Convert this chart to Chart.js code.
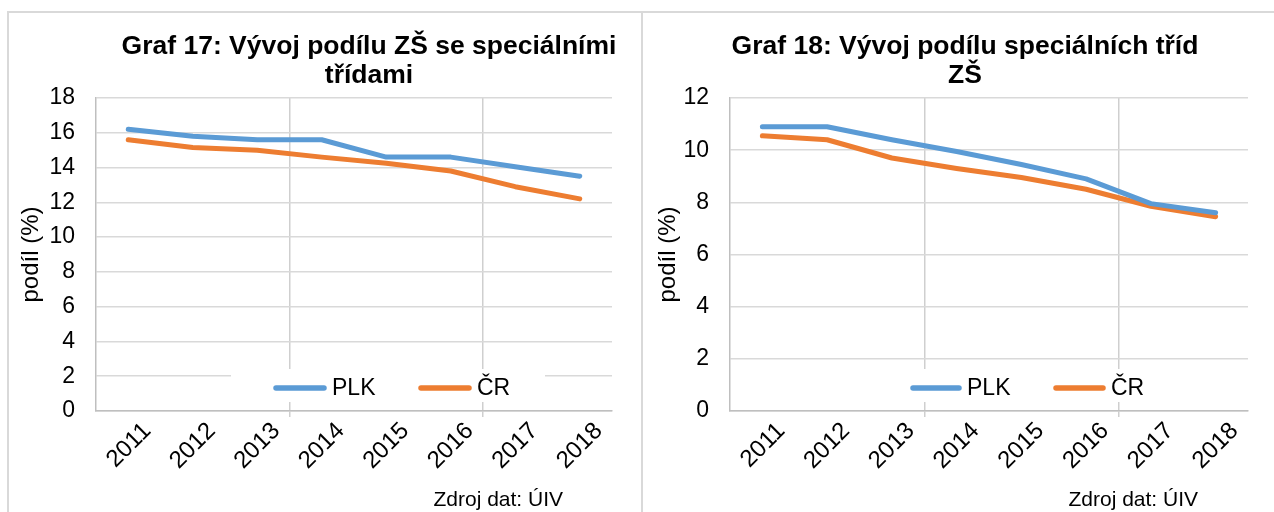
<!DOCTYPE html>
<html>
<head>
<meta charset="utf-8">
<script src="https://cdn.jsdelivr.net/npm/chart.js@4/dist/chart.umd.min.js"></script>
<style>
  html, body { margin:0; padding:0; background:#fff; }
  #wrap { position:relative; width:1274px; height:512px; overflow:hidden; background:#fff; }
  .frame { position:absolute; background:#d9d9d9; }
  canvas { position:absolute; top:0; }
</style>
</head>
<body>
<div id="wrap">
  <div class="frame" style="left:8px;top:11px;width:1266px;height:2px;"></div>
  <div class="frame" style="left:7px;top:11px;width:2px;height:501px;"></div>
  <div class="frame" style="left:641px;top:11px;width:2px;height:501px;"></div>
  <canvas id="c1" width="637" height="512" style="left:0px;"></canvas>
  <canvas id="c2" width="637" height="512" style="left:637px;"></canvas>
</div>
<script>
// ---- data ----
const years = ['2011','2012','2013','2014','2015','2016','2017','2018'];
const plkZS   = [16.2, 15.8, 15.6, 15.6, 14.6, 14.6, 14.05, 13.5];
const crZS    = [15.6, 15.15, 15.0, 14.6, 14.25, 13.8, 12.9, 12.2];
const plkTridy = [10.9, 10.9, 10.4, 9.95, 9.45, 8.9, 7.95, 7.6];
const crTridy  = [10.55, 10.4, 9.7, 9.3, 8.95, 8.5, 7.85, 7.45];
const seriesNames = ['PLK', 'ČR'];
const title1 = ['Graf 17: Vývoj podílu ZŠ se speciálními', 'třídami'];
const title2 = ['Graf 18: Vývoj podílu speciálních tříd', 'ZŠ'];
const yTitle = 'podíl (%)';
const sourceText = 'Zdroj dat: ÚIV';

const FONT = '"Liberation Sans", Arial, sans-serif';
const BLUE = '#5B9BD5';
const ORANGE = '#ED7D31';
Chart.defaults.font.family = FONT;
Chart.defaults.color = '#000';

const decorPlugin = {
  id: 'decor',
  beforeDatasetsDraw(chart, args, opts) {
    const ctx = chart.ctx;
    const b = opts.box;
    ctx.save();
    ctx.fillStyle = '#fff';
    ctx.fillRect(b[0], b[1], b[2]-b[0], b[3]-b[1]);
    ctx.restore();
  },
  afterDraw(chart, args, opts) {
    const ctx = chart.ctx;
    ctx.save();
    // title
    ctx.fillStyle = '#000';
    ctx.font = 'bold 26.5px ' + FONT;
    ctx.textAlign = 'center';
    ctx.textBaseline = 'alphabetic';
    opts.title.forEach((t, i) => ctx.fillText(t, opts.titleX, opts.titleY[i]));
    // legend
    ctx.font = '23px ' + FONT;
    ctx.textAlign = 'left';
    ctx.textBaseline = 'middle';
    chart.data.datasets.forEach((ds, i) => {
      const it = opts.items[i];
      ctx.strokeStyle = ds.borderColor;
      ctx.lineWidth = 5.5;
      ctx.lineCap = 'round';
      ctx.beginPath();
      ctx.moveTo(it[0], opts.legendY);
      ctx.lineTo(it[1], opts.legendY);
      ctx.stroke();
      ctx.fillStyle = '#000';
      ctx.fillText(ds.label, it[2], opts.legendY + 1);
    });
    // source
    ctx.font = '21px ' + FONT;
    ctx.textAlign = 'right';
    ctx.textBaseline = 'alphabetic';
    ctx.fillText(sourceText, opts.sourceX, opts.sourceY);
    ctx.restore();
  }
};

function makeChart(id, a, b, yMax, yWidth, padRight, decor) {
  return new Chart(document.getElementById(id), {
    type: 'line',
    data: {
      labels: years,
      datasets: [
        { label: seriesNames[0], data: a, borderColor: BLUE, backgroundColor: BLUE, borderWidth: 5, pointRadius: 0, tension: 0, borderCapStyle: 'round', borderJoinStyle: 'round' },
        { label: seriesNames[1], data: b, borderColor: ORANGE, backgroundColor: ORANGE, borderWidth: 5, pointRadius: 0, tension: 0, borderCapStyle: 'round', borderJoinStyle: 'round' }
      ]
    },
    options: {
      responsive: false,
      animation: false,
      devicePixelRatio: 1,
      layout: { padding: { left: 0, right: padRight, top: 98, bottom: 0 } },
      plugins: {
        legend: { display: false },
        title: { display: false },
        tooltip: { enabled: false },
        decor: decor
      },
      scales: {
        x: {
          type: 'category',
          offset: true,
          grid: {
            offset: true,
            color: c => (c.index > 0 && c.index % 3 === 0) ? '#cfcfcf' : 'rgba(0,0,0,0)',
            lineWidth: 1.5,
            tickLength: 6
          },
          border: { color: '#bfbfbf', width: 1.5 },
          ticks: {
            autoSkip: false, maxRotation: 45, minRotation: 45,
            font: { size: 24 }, color: '#000', padding: 0, labelOffset: 19
          },
          afterFit: s => { s.height = 101; }
        },
        y: {
          min: 0, max: yMax,
          ticks: { stepSize: 2, padding: 21, font: { size: 23 }, color: '#000' },
          grid: { color: '#d9d9d9', lineWidth: 1.5, drawTicks: false },
          border: { color: '#bfbfbf', width: 1.5 },
          title: { display: true, text: yTitle, font: { size: 24 }, color: '#000', padding: { top: 17, bottom: 0 } },
          afterFit: s => { s.width = yWidth; }
        }
      }
    },
    plugins: [decorPlugin]
  });
}

makeChart('c1', plkZS, crZS, 18, 96, 25, {
  box: [231, 369, 545, 402],
  items: [[276, 324, 332], [421, 469, 477]],
  legendY: 388,
  title: title1, titleX: 369, titleY: [54, 83],
  sourceX: 563, sourceY: 506
});
makeChart('c2', plkTridy, crTridy, 12, 93, 26, {
  box: [231, 369, 543, 402],
  items: [[276, 322, 330], [419, 466, 474]],
  legendY: 388,
  title: title2, titleX: 328, titleY: [54, 83],
  sourceX: 561, sourceY: 506
});
</script>
</body>
</html>
